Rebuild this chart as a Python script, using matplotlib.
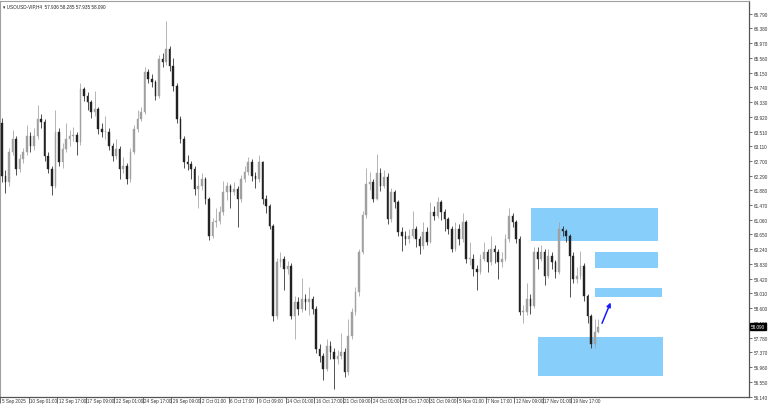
import matplotlib
matplotlib.use("Agg")
import matplotlib.pyplot as plt
import matplotlib.transforms as mtransforms
import numpy as np

# H4 candles (one candle drawn per two H4 slots)
first_open = 63.75
closes = [
    62.29, 62.11, 62.94, 63.31, 62.47, 62.75, 62.94, 63.39, 63.11, 63.39,
    63.86, 63.78, 62.83, 62.47, 62.00, 63.50, 62.67, 63.03, 63.31, 63.39,
    63.43, 63.22, 64.70, 64.50, 64.34, 64.06, 64.14, 63.58, 63.50, 63.50,
    63.11, 62.83, 63.03, 62.47, 62.56, 62.19, 62.94, 63.58, 63.86, 64.06,
    65.17, 64.97, 64.89, 64.50, 65.53, 65.44, 65.81, 65.34, 64.78, 63.86,
    63.31, 62.67, 62.61, 62.47, 61.92, 62.00, 62.19, 61.64, 60.61, 61.00,
    61.02, 61.28, 61.83, 62.00, 61.83, 61.92, 61.64, 62.19, 62.39, 62.67,
    62.28, 62.19, 62.67, 61.64, 61.44, 60.90, 58.38, 59.89, 59.97, 59.69,
    59.77, 58.38, 58.77, 58.58, 58.86, 58.77, 58.86, 58.58, 57.47, 57.27,
    56.91, 57.55, 57.38, 57.19, 57.27, 57.38, 56.83, 57.83, 58.50, 59.05,
    60.16, 61.20, 62.05, 62.11, 61.64, 62.35, 62.00, 62.25, 61.08, 61.83,
    61.55, 60.72, 60.61, 60.53, 60.61, 60.80, 60.53, 60.33, 60.72, 60.44,
    61.28, 61.16, 61.55, 61.28, 61.08, 60.80, 60.25, 60.80, 60.53, 61.00,
    59.97, 59.97, 59.69, 59.61, 59.97, 60.16, 59.89, 60.25, 60.16, 59.89,
    59.97, 60.53, 61.16, 61.00, 60.53, 58.50, 58.50, 58.86, 58.66, 60.16,
    59.97, 60.16, 59.50, 60.05, 59.89, 59.61, 60.80, 60.75, 60.61, 60.05,
    59.41, 59.50, 59.77, 58.94, 58.38, 57.60, 57.94, 58.09,
]
highs = [
    63.90, 62.45, 63.05, 63.55, 63.40, 62.90, 63.05, 63.70, 63.50, 63.60,
    64.25, 64.00, 63.85, 62.95, 62.55, 64.10, 63.60, 63.20, 63.75, 63.55,
    63.65, 63.50, 64.85, 64.75, 64.60, 64.40, 64.65, 64.20, 63.75, 63.95,
    63.60, 63.20, 63.30, 63.10, 62.80, 62.65, 63.05, 63.70, 64.10, 64.20,
    65.30, 65.25, 65.10, 64.95, 65.65, 65.70, 66.60, 65.90, 65.55, 64.85,
    63.95, 63.40, 62.85, 62.70, 62.55, 62.30, 62.35, 62.25, 61.70, 61.10,
    61.40, 61.45, 62.15, 62.10, 62.05, 62.10, 62.00, 62.30, 62.55, 62.80,
    62.75, 62.40, 62.85, 62.70, 61.75, 61.50, 60.95, 60.00, 60.15, 60.05,
    59.90, 59.85, 58.95, 58.90, 59.45, 59.00, 59.20, 58.95, 58.65, 57.60,
    57.35, 57.75, 57.70, 57.50, 57.45, 57.90, 57.50, 58.30, 58.60, 59.20,
    60.25, 61.30, 62.50, 62.40, 62.20, 62.90, 62.50, 62.45, 62.35, 61.95,
    61.90, 61.60, 60.85, 60.75, 60.80, 61.30, 60.90, 60.60, 61.00, 60.85,
    61.55, 61.45, 61.70, 61.60, 61.35, 61.15, 60.90, 61.00, 60.95, 61.25,
    61.05, 60.45, 60.10, 59.80, 60.10, 60.45, 60.25, 60.60, 60.35, 60.25,
    60.15, 60.65, 61.40, 61.25, 61.05, 60.60, 58.70, 59.30, 59.00, 60.30,
    60.30, 60.35, 60.25, 60.25, 60.15, 59.95, 61.00, 60.90, 60.80, 60.65,
    60.15, 59.75, 60.20, 59.85, 59.00, 58.45, 58.30, 58.30,
]
lows = [
    62.10, 61.80, 62.00, 62.85, 62.30, 62.40, 62.65, 62.85, 62.95, 63.00,
    63.30, 63.60, 62.70, 62.35, 61.75, 61.95, 62.55, 62.50, 62.95, 63.10,
    63.25, 62.85, 63.15, 64.35, 64.10, 63.90, 63.95, 63.45, 63.35, 63.30,
    63.00, 62.70, 62.75, 62.20, 62.35, 62.05, 62.10, 62.90, 63.50, 63.80,
    64.00, 64.85, 64.75, 64.40, 64.45, 65.30, 65.35, 65.20, 64.65, 63.75,
    63.20, 62.50, 62.45, 62.20, 61.75, 61.40, 61.90, 61.50, 60.50, 60.55,
    60.85, 60.95, 61.20, 61.60, 61.40, 61.75, 60.85, 61.55, 62.10, 62.30,
    62.15, 61.95, 62.10, 61.50, 61.25, 60.80, 58.25, 58.30, 59.75, 59.10,
    59.55, 58.30, 57.75, 58.40, 58.50, 58.55, 58.40, 58.45, 57.35, 57.10,
    56.60, 56.85, 57.20, 56.35, 57.05, 57.20, 56.70, 56.75, 57.75, 58.40,
    58.95, 60.10, 61.10, 61.90, 61.55, 61.60, 61.85, 61.95, 60.95, 61.00,
    61.40, 60.60, 60.20, 60.35, 60.40, 60.55, 60.30, 60.10, 60.25, 60.35,
    60.40, 61.05, 61.10, 61.05, 60.75, 60.65, 60.15, 60.20, 60.35, 60.45,
    59.85, 59.80, 59.50, 59.10, 59.55, 59.90, 59.60, 59.80, 59.85, 59.40,
    59.75, 59.90, 60.45, 60.85, 60.40, 58.40, 58.20, 58.40, 58.45, 58.60,
    59.70, 59.90, 59.25, 59.45, 59.70, 59.45, 59.55, 60.60, 60.45, 58.90,
    59.30, 59.30, 59.40, 58.80, 58.20, 57.50, 57.50, 57.90,
]

# zones drawn on the chart (x in H4 bars, prices)
zone_x0 = [297.3, 333.3, 333.3, 301.4]
zone_x1 = [368.2, 368.2, 370.5, 371.4]
zone_lo = [60.46, 59.73, 58.92, 56.72]
zone_hi = [61.38, 60.16, 59.15, 57.81]
arrow_start = (336.5, 58.11)
arrow_end = (342.5, 58.83)

price_ticks = ["66.790", "66.380", "65.970", "65.560", "65.150", "64.740",
               "64.330", "63.920", "63.510", "63.110", "62.700", "62.290",
               "61.880", "61.470", "61.060", "60.650", "60.240", "59.830",
               "59.420", "59.010", "58.600", "58.190", "57.780", "57.370",
               "56.960", "56.550", "56.140"]
time_ticks = ["5 Sep 2025", "10 Sep 01:00", "12 Sep 17:00", "17 Sep 09:00",
              "22 Sep 01:00", "24 Sep 17:00", "29 Sep 09:00", "2 Oct 01:00",
              "6 Oct 17:00", "9 Oct 09:00", "14 Oct 01:00", "16 Oct 17:00",
              "21 Oct 09:00", "24 Oct 01:00", "28 Oct 17:00", "31 Oct 09:00",
              "5 Nov 01:00", "7 Nov 17:00", "12 Nov 09:00", "17 Nov 01:00",
              "19 Nov 17:00"]
header = "USOUSD-VIP,H4  57.936 58.285 57.935 58.090"
last_price = "58.090"

plt.rcParams["font.family"] = ["Liberation Sans", "DejaVu Sans"]
fs = 3.3

closes = np.array(closes)
opens = np.concatenate([[first_open], closes[:-1]])
highs = np.array(highs)
lows = np.array(lows)
xs = 1 + 2 * np.arange(len(closes))

fig = plt.figure(figsize=(7.68, 4.10), dpi=100)
ax = fig.add_axes([0.0, 12 / 410, 749 / 768, 396 / 410])

# zones behind the candles
for x0, x1, lo, hi in zip(zone_x0, zone_x1, zone_lo, zone_hi):
    ax.add_patch(plt.Rectangle((x0, lo), x1 - x0, hi - lo,
                               facecolor="#87cefa", edgecolor="none", zorder=1))

up = closes >= opens
col = np.where(up, "#a0a0a0", "#222222")
ax.vlines(xs, lows, highs, colors=col, linewidth=0.55, zorder=2)
body = np.maximum(np.abs(closes - opens), 0.02)
ax.bar(xs, body, bottom=np.minimum(opens, closes), width=0.9,
       color=col, edgecolor=col, linewidth=0.3, zorder=3)

ax.annotate("", xy=arrow_end, xytext=arrow_start,
            arrowprops=dict(arrowstyle="-|>", color="#1a1aff", lw=1.1,
                            mutation_scale=6), zorder=4)

ax.set_xlim(0, 419.4)
ax.set_ylim(56.131, 67.143)

ax.yaxis.tick_right()
ax.set_yticks([float(t) for t in price_ticks])
ax.set_yticklabels(price_ticks)
ax.tick_params(axis="y", which="both", length=2.5, width=0.5, pad=1,
               labelsize=fs, colors="#333333")

ax.set_xticks(16 * np.arange(len(time_ticks)))
ax.set_xticklabels(time_ticks, ha="left")
ax.tick_params(axis="x", length=4, width=0.5, pad=-3.2, labelsize=fs,
               colors="#333333")
for lbl in ax.get_xticklabels():
    lbl.set_transform(lbl.get_transform() +
                      mtransforms.ScaledTranslation(1.5 / 100, 0, fig.dpi_scale_trans))

for side in ["left", "top"]:
    ax.spines[side].set_color("#a0a0a0")
    ax.spines[side].set_linewidth(0.8)
for side in ["right", "bottom"]:
    ax.spines[side].set_color("#555555")
    ax.spines[side].set_linewidth(0.9)

# current price tag
trans = mtransforms.blended_transform_factory(ax.transAxes, ax.transData)
ax.text(1.003, float(last_price), last_price, transform=trans, fontsize=fs,
        color="white", va="center", ha="left",
        bbox=dict(boxstyle="square,pad=0.2", facecolor="black", edgecolor="black"))

fig.text(3 / 768, 1 - 7 / 410, "\u25be " + header, fontsize=fs,
         color="#222222", va="center", ha="left")

fig.savefig("out.png", dpi=100, facecolor="white")
